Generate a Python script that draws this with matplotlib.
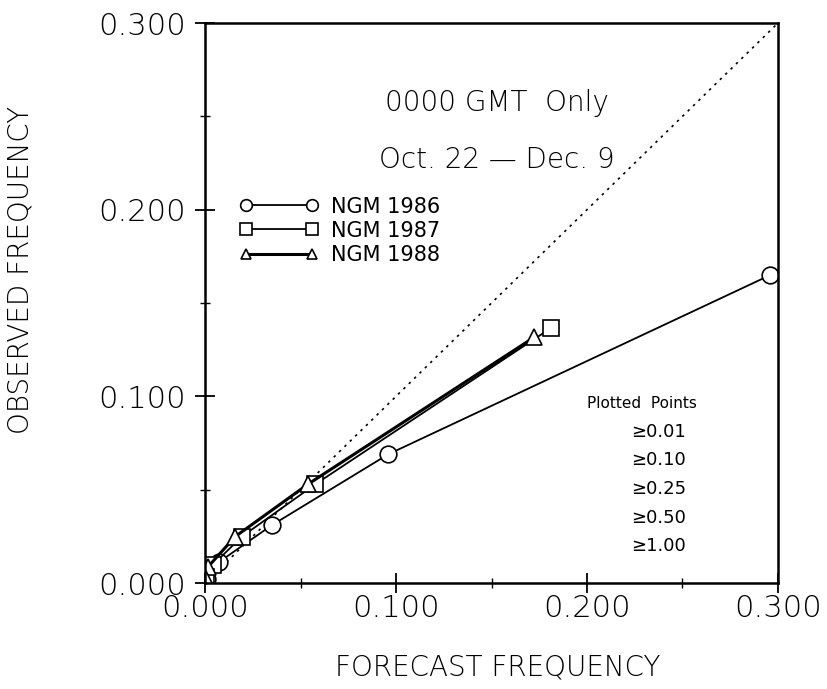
import matplotlib.pyplot as plt
from matplotlib.ticker import MultipleLocator, FormatStrFormatter

plt.rcParams["font.family"] = ["DejaVu Sans"]
plt.rcParams["font.weight"] = 200
plt.rcParams["axes.labelweight"] = 200

# forecast / observed frequency at thresholds >=0.01, 0.10, 0.25, 0.50, 1.00
fc_1986 = [0.296, 0.096, 0.035, 0.0075, 0.001]
ob_1986 = [0.165, 0.069, 0.031, 0.0114, 0.002]
fc_1987 = [0.181, 0.0576, 0.0192, 0.004, 0.0005]
ob_1987 = [0.1365, 0.0528, 0.0248, 0.0096, 0.003]
fc_1988 = [0.1724, 0.054, 0.0157, 0.0016, 0.0005]
ob_1988 = [0.1317, 0.053, 0.0248, 0.0087, 0.002]
thresholds = ["0.01", "0.10", "0.25", "0.50", "1.00"]

fig = plt.figure(figsize=(8.28, 6.89), dpi=100)
ax = fig.add_axes([0.2476, 0.1538, 0.692, 0.8128])

# perfect reliability line
ax.plot([0, 0.3], [0, 0.3], ls=(0, (1.5, 3)), color="black", lw=1.2, zorder=1)

mk = dict(markerfacecolor="white", markeredgecolor="black", markeredgewidth=1.2)
ax.plot(fc_1986, ob_1986, "-o", color="black", lw=1.3, ms=12, label="NGM 1986", **mk)
ax.plot(fc_1987, ob_1987, "-s", color="black", lw=1.3, ms=12, label="NGM 1987", **mk)
ax.plot(fc_1988, ob_1988, "-^", color="black", lw=2.2, ms=11, label="NGM 1988", **mk)

ax.set_xlim(0, 0.3)
ax.set_ylim(0, 0.3)
ax.xaxis.set_major_locator(MultipleLocator(0.1))
ax.yaxis.set_major_locator(MultipleLocator(0.1))
ax.xaxis.set_minor_locator(MultipleLocator(0.05))
ax.yaxis.set_minor_locator(MultipleLocator(0.05))
ax.xaxis.set_major_formatter(FormatStrFormatter("%.3f"))
ax.yaxis.set_major_formatter(FormatStrFormatter("%.3f"))
ax.tick_params(which="major", direction="inout", length=14, width=1.3, labelsize=22)
ax.tick_params(which="minor", direction="inout", length=7, width=1.0)
ax.tick_params(axis="x", which="major", pad=1)
ax.tick_params(axis="y", which="major", pad=7)
for s in ax.spines.values():
    s.set_linewidth(1.8)

ax.set_xlabel("FORECAST FREQUENCY", fontsize=20)
ax.set_ylabel("OBSERVED FREQUENCY", fontsize=20)
ax.xaxis.set_label_coords(0.51, -0.125)
ax.yaxis.set_label_coords(-0.297, 0.559)

ax.text(0.51, 0.857, "0000 GMT  Only", transform=ax.transAxes, ha="center", va="center", fontsize=20)
ax.text(0.51, 0.755, "Oct. 22 — Dec. 9", transform=ax.transAxes, ha="center", va="center", fontsize=20)

ax.legend(loc="upper left", bbox_to_anchor=(0.06, 0.69), frameon=False, numpoints=2,
          markerscale=0.7, handlelength=3.8, handletextpad=0.6, labelspacing=0.2,
          borderaxespad=0, borderpad=0, prop={"size": 15, "weight": "normal"})

ax.text(0.763, 0.321, "Plotted  Points", transform=ax.transAxes, ha="center", va="center",
        fontsize=11, fontweight="normal")
for i, t in enumerate(thresholds):
    ax.text(0.743, 0.270 - i * 0.051, "\u2265" + t, transform=ax.transAxes,
            ha="left", va="center", fontsize=13, fontweight="normal")

fig.savefig("out.png", dpi=100)
